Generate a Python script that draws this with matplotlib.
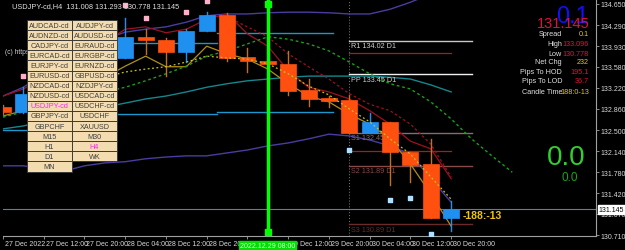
import matplotlib
matplotlib.use("Agg")
import matplotlib.pyplot as plt
from matplotlib.patches import Rectangle
import matplotlib.transforms as mtrans
import numpy as np

plt.rcParams["font.family"] = ["Liberation Sans", "DejaVu Sans"]

# ---------------- data ----------------
title = "USDJPY-cd,H4  131.008 131.293 130.778 131.145"
xtick_idx = [0, 2, 4, 6, 8, 10, 12, 14, 16, 18, 20, 22]
xtick_labels = ["27 Dec 2022", "27 Dec 12:00", "27 Dec 20:00", "28 Dec 04:00", "28 Dec 12:00",
                "28 Dec 20:00", "", "29 Dec 12:00", "29 Dec 20:00", "30 Dec 04:00",
                "30 Dec 12:00", "30 Dec 20:00"]
ytick_vals = [134.650, 134.290, 133.930, 133.580, 133.220, 132.860, 132.500, 132.140, 131.780, 131.420, 131.070, 130.710]

# candles (bar index, open, high, low, close)
c_idx = [0, 1, 6, 7, 8, 9, 10, 11, 12, 13, 14, 15, 16, 17, 18, 19, 20, 21, 22]
c_open = [132.89, 132.81, 133.73, 134.09, 134.04, 133.83, 134.19, 134.46, 133.75, 133.68, 133.63, 133.18, 133.05, 133.01, 132.45, 132.64, 132.13, 131.92, 131.008]
c_high = [132.93, 133.23, 134.41, 134.22, 134.07, 134.22, 134.51, 134.50, 133.90, 133.71, 133.85, 133.37, 133.08, 133.096, 132.79, 132.64, 132.13, 132.35, 131.293]
c_low = [132.77, 132.79, 133.73, 133.80, 133.42, 133.66, 134.19, 133.68, 133.49, 133.59, 133.10, 132.91, 132.89, 132.45, 132.45, 131.56, 131.61, 131.008, 130.778]
c_close = [132.81, 133.12, 134.09, 134.04, 133.83, 134.19, 134.46, 133.73, 133.68, 133.63, 133.17, 133.03, 133.00, 132.45, 132.64, 132.13, 131.90, 131.008, 131.145]

line_idx = list(range(23))
bb_mid = [132.52, 132.57, 132.65, 132.74, 132.81, 132.89, 132.96, 133.03, 133.08, 133.15, 133.23, 133.29, 133.34, 133.37, 133.40, 133.42, 133.42, 133.42, 133.42, 133.40, 133.37, 133.27, 133.15]
bb_up = [133.08, 133.23, 133.46, 133.68, 133.88, 134.05, 134.17, 134.22, 134.26, 134.34, 134.45, 134.48, 134.48, 134.50, 134.51, 134.51, 134.50, 134.48, 134.48, 134.56, 134.68, 134.82, 134.90]
bb_low = [131.89, 131.89, 131.84, 131.80, 131.89, 131.94, 131.96, 132.01, 132.04, 132.06, 132.06, 132.11, 132.16, 132.23, 132.28, 132.35, 132.43, 132.40, 132.33, 132.23, 132.09, 131.67, 131.27]
red_fast = [133.08, 133.20, 133.40, 133.60, 133.80, 134.00, 134.22, 134.26, 134.16, 134.22, 134.39, 134.48, 134.14, 133.93, 133.51, 133.23, 133.15, 133.03, 132.83, 132.60, 132.31, 132.18, 131.67]
red_dot_idx = list(range(11, 23))
red_dot = [134.43, 134.26, 134.09, 133.80, 133.58, 133.37, 133.12, 132.94, 132.83, 132.60, 132.26, 131.70]
green_dot_idx = list(range(26))
green_dot = [132.72, 132.81, 132.90, 132.99, 133.08, 133.15, 133.23, 133.34, 133.46, 133.59, 133.76, 133.85, 133.97, 134.09, 134.05, 133.97, 133.85, 133.66, 133.46, 133.29, 133.20, 132.98, 132.69, 132.35, 132.06, 131.78]
yellow_dot_idx = list(range(5, 23))
yellow_dot = [133.40, 133.49, 133.54, 133.58, 133.66, 133.76, 133.73, 133.71, 133.63, 133.46, 133.25, 133.10, 132.86, 132.64, 132.35, 132.09, 131.70, 131.32]
gold_line = [132.74, 132.83, 132.95, 133.10, 133.25, 133.40, 133.59, 133.76, 133.58, 133.58, 133.93, 133.80, 133.71, 133.54, 133.29, 133.08, 132.98, 132.77, 132.60, 132.35, 131.92, 131.41, 130.86]

# previous-day high / low steps (start bar, end bar, value)
day_hi = [(4.5, 10.5, 133.99), (10.5, 16.2, 134.16)]
day_lo = [(-0.5, 4.5, 132.50), (4.5, 10.5, 132.77), (10.5, 16.2, 132.81)]

piv_names = ["R1", "PP", "S1", "S2", "S3"]
piv_vals = [134.02, 133.45, 132.45, 131.89, 130.89]
piv_colors = ["#c8c8c8", "#f0f0f0", "#8a6a6a", "#8a4a4a", "#6a2a2a"]
mid_lines = [133.81, 132.14]

fr_up_idx = [1, 6, 7, 9, 10]
fr_up = [133.42, 134.63, 134.41, 134.51, 134.70]
fr_dn_idx = [17, 19, 20, 21]
fr_dn = [132.16, 131.31, 131.34, 130.73]

buttons = [["AUDCAD-cd", "AUDJPY-cd"], ["AUDNZD-cd", "AUDUSD-cd"], ["CADJPY-cd", "EURAUD-cd"],
           ["EURCAD-cd", "EURGBP-cd"], ["EURJPY-cd", "EURNZD-cd"], ["EURUSD-cd", "GBPUSD-cd"],
           ["NZDCAD-cd", "NZDJPY-cd"], ["NZDUSD-cd", "USDCAD-cd"], ["USDJPY-cd", "USDCHF-cd"],
           ["GBPJPY-cd", "USDCHF"], ["GBPCHF", "XAUUSD"], ["M15", "M30"], ["H1", "H4"], ["D1", "WK"], ["MN", None]]
selected = {"USDJPY-cd", "H4"}

info_labels = ["Spread", "High", "Low", "Net Chg", "Pips To HOD", "Pips To LOD", "Candle Time"]
info_values = ["0.1", "133.096", "130.778", "232", "195.1", "36.7", "188:0-13"]
info_colors = ["#e8c800", "#e0103c", "#e0103c", "#e8c800", "#e0103c", "#e0103c", "#e8c800"]

bid = 131.145
vline_bar = 13

# ---------------- figure ----------------
W, H = 625, 251
fig = plt.figure(figsize=(W / 100, H / 100), dpi=100, facecolor="black")
ax = fig.add_axes([3 / W, (H - 237) / H, (596 - 3) / W, (237 - 1) / H])
ax.set_facecolor("black")
x0, x1 = 0.04, 29.11
y0, y1 = 130.693, 134.718
ax.set_xlim(x0, x1)
ax.set_ylim(y0, y1)

FS = 5.0

# bid line
ax.axhline(bid, color="#6a7a8a", lw=0.8, zorder=1)

# day separator
ax.axvline(17, color="#808080", lw=0.7, ls=(0, (1, 2)), zorder=1)

# previous-day high/low
for a, b, v in day_hi + day_lo:
    ax.plot([a, b], [v, v], color="#1c96cc", lw=1.0, zorder=2)

# pivots
for n, v, c in zip(piv_names, piv_vals, piv_colors):
    ax.plot([17, 23], [v, v], color=c, lw=1.0, zorder=2)
    ax.text(17.1, v - 0.025, f"{n} {v:.2f} D1", color=c if n not in ("R1", "PP") else "#d0d0d0",
            fontsize=FS + 0.2, va="top", ha="left", zorder=3)
for v in mid_lines:
    ax.plot([17, 22], [v, v], color="#a02020", lw=0.9, zorder=2)

# indicator lines
ax.plot(line_idx, bb_up, color="#4a3ca0", lw=1.0, zorder=2)
ax.plot(line_idx, bb_low, color="#4a3ca0", lw=1.0, zorder=2)
ax.plot(line_idx, bb_mid, color="#14868c", lw=1.0, zorder=2)
ax.plot(line_idx, gold_line, color="#b09018", lw=0.9, zorder=2)
ax.plot(line_idx, red_fast, color="#a01020", lw=0.9, zorder=2)
ax.plot(red_dot_idx, red_dot, color="#a01020", lw=0.9, ls=(0, (2, 2)), zorder=2)
ax.plot(green_dot_idx, green_dot, color="#18a018", lw=1.0, ls=(0, (2, 2)), zorder=2)
ax.plot(yellow_dot_idx, yellow_dot, color="#c8c020", lw=0.9, ls=(0, (1.5, 2)), zorder=5)

# candles
bw = 0.78
for i, o, h, l, c in zip(c_idx, c_open, c_high, c_low, c_close):
    up = c >= o
    col = "#2090f0" if up else "#ff5010"
    wcol = "#2090f0" if up else "#c07020"
    ax.plot([i, i], [l, h], color=wcol, lw=1.0, zorder=3)
    ax.add_patch(Rectangle((i - bw / 2, min(o, c)), bw, max(abs(c - o), 0.02), facecolor=col,
                           edgecolor=col, lw=0.5, zorder=4))

# fractal dots
ax.scatter(fr_up_idx, fr_up, marker="s", s=5, color="#ffb0c8", zorder=5)
ax.scatter(fr_dn_idx, fr_dn, marker="s", s=5, color="#b0e0ff", zorder=5)

# green vertical line with selection handles
ax.axvline(vline_bar, color="#00ff00", lw=2.5, zorder=6)
ax.plot([vline_bar, vline_bar], [0.985, 0.015], transform=ax.get_xaxis_transform(), ls="none",
        marker="s", ms=4.5, color="#00ff00", zorder=7, clip_on=False)

# axes styling
for s in ["top", "left"]:
    ax.spines[s].set_visible(False)
ax.spines["bottom"].set_color("#a0a0a0")
ax.spines["right"].set_color("#a0a0a0")
ax.spines["bottom"].set_linewidth(0.8)
ax.spines["right"].set_linewidth(0.8)
ax.yaxis.tick_right()
ax.set_yticks(ytick_vals)
ax.set_yticklabels([f"{v:.3f}" for v in ytick_vals])
ax.set_xticks(xtick_idx)
ax.set_xticklabels(xtick_labels, ha="left")
ax.tick_params(axis="both", colors="#a0a0a0", labelcolor="#d8d8d8", labelsize=FS, length=2, width=0.6, pad=1.2)
off = mtrans.ScaledTranslation(2 / 100, 0, fig.dpi_scale_trans)
for lbl in ax.get_xticklabels():
    lbl.set_transform(lbl.get_transform() + off)

# bid label on axis
ax.text(1.004, (bid - y0) / (y1 - y0), "131.145", transform=ax.transAxes, fontsize=FS, color="black",
        va="center", ha="left", bbox=dict(boxstyle="square,pad=0.12", fc="white", ec="white"), zorder=10, clip_on=False)

# green date label
ax.text(vline_bar, -0.024, "2022.12.29 08:00", transform=ax.get_xaxis_transform(), fontsize=FS, color="#e8ffe8",
        va="top", ha="center", bbox=dict(boxstyle="square,pad=0.12", fc="#00e000", ec="#00e000"), zorder=10, clip_on=False)

# title
fig.text(12 / W, 1 - 7 / H, title, color="#e0e0e0", fontsize=5.3, va="center", ha="left")
fig.text(5 / W, 1 - 53 / H, "(c) https://", color="#d0d0d0", fontsize=4.8, va="center", ha="left")

# button panel
bx0, bcw, by0, brh = 27, 45, 21, 10.1
for r, row in enumerate(buttons):
    for cidx, name in enumerate(row):
        if name is None:
            continue
        xl = bx0 + cidx * bcw
        yt = by0 + r * brh
        rect = Rectangle((xl / W, 1 - (yt + brh) / H), bcw / W, brh / H, transform=fig.transFigure,
                         facecolor="#f3dcb0", edgecolor="#303030", lw=0.6, zorder=20)
        fig.add_artist(rect)
        fig.text((xl + bcw / 2) / W, 1 - (yt + brh / 2) / H, name,
                 color="#ff20ff" if name in selected else "#404040", fontsize=5.2,
                 ha="center", va="center", zorder=21)

# info panel
fig.text(589 / W, 1 - 17 / H, "0.1", color="#1010ff", fontsize=17, ha="right", va="center")
fig.text(590 / W, 1 - 24 / H, "131.145", color="#e0103c", fontsize=10.5, ha="right", va="center")
ys = [35, 44, 54, 63, 73, 82, 92]
for lab, val, col, yy in zip(info_labels, info_values, info_colors, ys):
    fig.text(562 / W, 1 - yy / H, lab, color="#e0e0e0", fontsize=5.2, ha="right", va="center")
    fig.text(589 / W, 1 - yy / H, val, color=col, fontsize=5.2, ha="right", va="center")

fig.text(566 / W, 1 - 158 / H, "0.0", color="#30d030", fontsize=20, ha="center", va="center")
fig.text(570 / W, 1 - 178 / H, "0.0", color="#20a020", fontsize=8.5, ha="center", va="center")
fig.text(463 / W, 1 - 216 / H, "-188:-13", color="#f0c800", fontsize=7.5, fontweight="bold", ha="left", va="center")

fig.savefig("out.png", dpi=100, facecolor="black")
